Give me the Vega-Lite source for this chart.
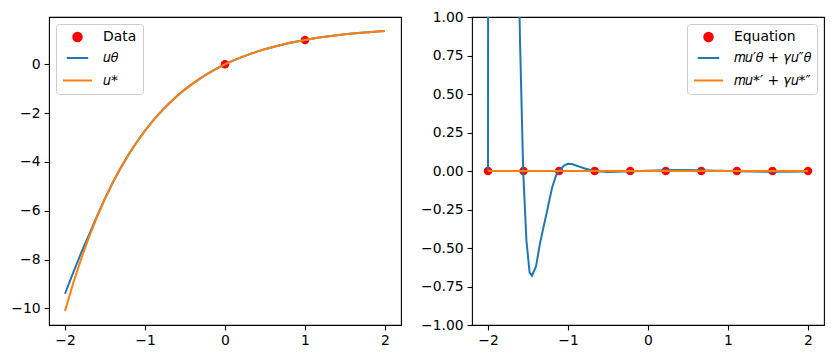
{
  "$schema": "https://vega.github.io/schema/vega-lite/v6.json",
  "background": "white",
  "padding": {"left": 10, "top": 9, "right": 5, "bottom": 5},
  "spacing": 17,
  "config": {
    "view": {"stroke": "black", "strokeWidth": 1.1},
    "axis": {"domain": false, "grid": false, "ticks": true, "tickColor": "black", "tickSize": 4.9, "tickWidth": 1.1, "labelFont": "DejaVu Sans", "labelFontSize": 13.9, "labelColor": "black", "labelPadding": 4},
    "legend": {"labelFont": "DejaVu Sans", "labelFontSize": 13.9, "labelColor": "black", "fillColor": "rgba(255,255,255,0.8)", "strokeColor": "#cccccc", "cornerRadius": 3, "padding": 6, "offset": 7, "symbolStrokeWidth": 2, "labelOffset": 10, "rowPadding": 0}
  },
  "datasets": {
    "leftPoints": [
      {"x": 0, "y": 0, "series": "Data"},
      {"x": 1, "y": 1, "series": "Data"}
    ],
    "leftLines": [
      {"x": -2.0, "y": -9.40, "series": "𝑢𝜃"},
      {"x": -1.9, "y": -8.55, "series": "𝑢𝜃"},
      {"x": -1.8, "y": -7.74, "series": "𝑢𝜃"},
      {"x": -1.7, "y": -6.99, "series": "𝑢𝜃"},
      {"x": -1.6, "y": -6.22, "series": "𝑢𝜃"},
      {"x": -1.5, "y": -5.49, "series": "𝑢𝜃"},
      {"x": -1.4, "y": -4.82, "series": "𝑢𝜃"},
      {"x": -1.3, "y": -4.215, "series": "𝑢𝜃"},
      {"x": -1.2, "y": -3.668, "series": "𝑢𝜃"},
      {"x": -1.1, "y": -3.170, "series": "𝑢𝜃"},
      {"x": -1.0, "y": -2.718, "series": "𝑢𝜃"},
      {"x": -0.9, "y": -2.309, "series": "𝑢𝜃"},
      {"x": -0.8, "y": -1.939, "series": "𝑢𝜃"},
      {"x": -0.7, "y": -1.604, "series": "𝑢𝜃"},
      {"x": -0.6, "y": -1.301, "series": "𝑢𝜃"},
      {"x": -0.5, "y": -1.026, "series": "𝑢𝜃"},
      {"x": -0.4, "y": -0.778, "series": "𝑢𝜃"},
      {"x": -0.3, "y": -0.553, "series": "𝑢𝜃"},
      {"x": -0.2, "y": -0.350, "series": "𝑢𝜃"},
      {"x": -0.1, "y": -0.166, "series": "𝑢𝜃"},
      {"x": 0.0, "y": 0.0, "series": "𝑢𝜃"},
      {"x": 0.1, "y": 0.151, "series": "𝑢𝜃"},
      {"x": 0.2, "y": 0.287, "series": "𝑢𝜃"},
      {"x": 0.3, "y": 0.410, "series": "𝑢𝜃"},
      {"x": 0.4, "y": 0.522, "series": "𝑢𝜃"},
      {"x": 0.5, "y": 0.622, "series": "𝑢𝜃"},
      {"x": 0.6, "y": 0.714, "series": "𝑢𝜃"},
      {"x": 0.7, "y": 0.796, "series": "𝑢𝜃"},
      {"x": 0.8, "y": 0.871, "series": "𝑢𝜃"},
      {"x": 0.9, "y": 0.939, "series": "𝑢𝜃"},
      {"x": 1.0, "y": 1.0, "series": "𝑢𝜃"},
      {"x": 1.1, "y": 1.055, "series": "𝑢𝜃"},
      {"x": 1.2, "y": 1.106, "series": "𝑢𝜃"},
      {"x": 1.3, "y": 1.151, "series": "𝑢𝜃"},
      {"x": 1.4, "y": 1.192, "series": "𝑢𝜃"},
      {"x": 1.5, "y": 1.229, "series": "𝑢𝜃"},
      {"x": 1.6, "y": 1.263, "series": "𝑢𝜃"},
      {"x": 1.7, "y": 1.293, "series": "𝑢𝜃"},
      {"x": 1.8, "y": 1.320, "series": "𝑢𝜃"},
      {"x": 1.9, "y": 1.345, "series": "𝑢𝜃"},
      {"x": 2.0, "y": 1.368, "series": "𝑢𝜃"},
      {"x": -2.0, "y": -10.107, "series": "𝑢*"},
      {"x": -1.9, "y": -8.995, "series": "𝑢*"},
      {"x": -1.8, "y": -7.988, "series": "𝑢*"},
      {"x": -1.7, "y": -7.078, "series": "𝑢*"},
      {"x": -1.6, "y": -6.254, "series": "𝑢*"},
      {"x": -1.5, "y": -5.508, "series": "𝑢*"},
      {"x": -1.4, "y": -4.833, "series": "𝑢*"},
      {"x": -1.3, "y": -4.223, "series": "𝑢*"},
      {"x": -1.2, "y": -3.670, "series": "𝑢*"},
      {"x": -1.1, "y": -3.171, "series": "𝑢*"},
      {"x": -1.0, "y": -2.718, "series": "𝑢*"},
      {"x": -0.9, "y": -2.309, "series": "𝑢*"},
      {"x": -0.8, "y": -1.939, "series": "𝑢*"},
      {"x": -0.7, "y": -1.604, "series": "𝑢*"},
      {"x": -0.6, "y": -1.301, "series": "𝑢*"},
      {"x": -0.5, "y": -1.026, "series": "𝑢*"},
      {"x": -0.4, "y": -0.778, "series": "𝑢*"},
      {"x": -0.3, "y": -0.553, "series": "𝑢*"},
      {"x": -0.2, "y": -0.350, "series": "𝑢*"},
      {"x": -0.1, "y": -0.166, "series": "𝑢*"},
      {"x": 0.0, "y": 0.0, "series": "𝑢*"},
      {"x": 0.1, "y": 0.151, "series": "𝑢*"},
      {"x": 0.2, "y": 0.287, "series": "𝑢*"},
      {"x": 0.3, "y": 0.410, "series": "𝑢*"},
      {"x": 0.4, "y": 0.522, "series": "𝑢*"},
      {"x": 0.5, "y": 0.622, "series": "𝑢*"},
      {"x": 0.6, "y": 0.714, "series": "𝑢*"},
      {"x": 0.7, "y": 0.796, "series": "𝑢*"},
      {"x": 0.8, "y": 0.871, "series": "𝑢*"},
      {"x": 0.9, "y": 0.939, "series": "𝑢*"},
      {"x": 1.0, "y": 1.0, "series": "𝑢*"},
      {"x": 1.1, "y": 1.055, "series": "𝑢*"},
      {"x": 1.2, "y": 1.106, "series": "𝑢*"},
      {"x": 1.3, "y": 1.151, "series": "𝑢*"},
      {"x": 1.4, "y": 1.192, "series": "𝑢*"},
      {"x": 1.5, "y": 1.229, "series": "𝑢*"},
      {"x": 1.6, "y": 1.263, "series": "𝑢*"},
      {"x": 1.7, "y": 1.293, "series": "𝑢*"},
      {"x": 1.8, "y": 1.320, "series": "𝑢*"},
      {"x": 1.9, "y": 1.345, "series": "𝑢*"},
      {"x": 2.0, "y": 1.368, "series": "𝑢*"}
    ],
    "rightPoints": [
      {"x": -2.0, "y": 0, "series": "Equation"},
      {"x": -1.5556, "y": 0, "series": "Equation"},
      {"x": -1.1111, "y": 0, "series": "Equation"},
      {"x": -0.6667, "y": 0, "series": "Equation"},
      {"x": -0.2222, "y": 0, "series": "Equation"},
      {"x": 0.2222, "y": 0, "series": "Equation"},
      {"x": 0.6667, "y": 0, "series": "Equation"},
      {"x": 1.1111, "y": 0, "series": "Equation"},
      {"x": 1.5556, "y": 0, "series": "Equation"},
      {"x": 2.0, "y": 0, "series": "Equation"}
    ],
    "rightLines": [
      {"x": -2.0, "y": 0, "series": "𝑚𝑢′𝜃 + 𝛾𝑢″𝜃"},
      {"x": -1.96, "y": 30, "series": "𝑚𝑢′𝜃 + 𝛾𝑢″𝜃"},
      {"x": -1.8, "y": 25, "series": "𝑚𝑢′𝜃 + 𝛾𝑢″𝜃"},
      {"x": -1.7, "y": 8, "series": "𝑚𝑢′𝜃 + 𝛾𝑢″𝜃"},
      {"x": -1.65, "y": 3, "series": "𝑚𝑢′𝜃 + 𝛾𝑢″𝜃"},
      {"x": -1.62, "y": 1.4, "series": "𝑚𝑢′𝜃 + 𝛾𝑢″𝜃"},
      {"x": -1.6, "y": 0.85, "series": "𝑚𝑢′𝜃 + 𝛾𝑢″𝜃"},
      {"x": -1.56, "y": 0.0, "series": "𝑚𝑢′𝜃 + 𝛾𝑢″𝜃"},
      {"x": -1.52, "y": -0.45, "series": "𝑚𝑢′𝜃 + 𝛾𝑢″𝜃"},
      {"x": -1.48, "y": -0.66, "series": "𝑚𝑢′𝜃 + 𝛾𝑢″𝜃"},
      {"x": -1.45, "y": -0.68, "series": "𝑚𝑢′𝜃 + 𝛾𝑢″𝜃"},
      {"x": -1.40, "y": -0.62, "series": "𝑚𝑢′𝜃 + 𝛾𝑢″𝜃"},
      {"x": -1.35, "y": -0.47, "series": "𝑚𝑢′𝜃 + 𝛾𝑢″𝜃"},
      {"x": -1.30, "y": -0.35, "series": "𝑚𝑢′𝜃 + 𝛾𝑢″𝜃"},
      {"x": -1.27, "y": -0.28, "series": "𝑚𝑢′𝜃 + 𝛾𝑢″𝜃"},
      {"x": -1.20, "y": -0.11, "series": "𝑚𝑢′𝜃 + 𝛾𝑢″𝜃"},
      {"x": -1.15, "y": -0.03, "series": "𝑚𝑢′𝜃 + 𝛾𝑢″𝜃"},
      {"x": -1.11, "y": 0.0, "series": "𝑚𝑢′𝜃 + 𝛾𝑢″𝜃"},
      {"x": -1.05, "y": 0.035, "series": "𝑚𝑢′𝜃 + 𝛾𝑢″𝜃"},
      {"x": -1.0, "y": 0.047, "series": "𝑚𝑢′𝜃 + 𝛾𝑢″𝜃"},
      {"x": -0.95, "y": 0.045, "series": "𝑚𝑢′𝜃 + 𝛾𝑢″𝜃"},
      {"x": -0.9, "y": 0.036, "series": "𝑚𝑢′𝜃 + 𝛾𝑢″𝜃"},
      {"x": -0.85, "y": 0.027, "series": "𝑚𝑢′𝜃 + 𝛾𝑢″𝜃"},
      {"x": -0.8, "y": 0.018, "series": "𝑚𝑢′𝜃 + 𝛾𝑢″𝜃"},
      {"x": -0.7, "y": 0.003, "series": "𝑚𝑢′𝜃 + 𝛾𝑢″𝜃"},
      {"x": -0.6, "y": -0.004, "series": "𝑚𝑢′𝜃 + 𝛾𝑢″𝜃"},
      {"x": -0.5, "y": -0.006, "series": "𝑚𝑢′𝜃 + 𝛾𝑢″𝜃"},
      {"x": -0.3, "y": -0.004, "series": "𝑚𝑢′𝜃 + 𝛾𝑢″𝜃"},
      {"x": -0.1, "y": 0.0, "series": "𝑚𝑢′𝜃 + 𝛾𝑢″𝜃"},
      {"x": 0.1, "y": 0.004, "series": "𝑚𝑢′𝜃 + 𝛾𝑢″𝜃"},
      {"x": 0.3, "y": 0.006, "series": "𝑚𝑢′𝜃 + 𝛾𝑢″𝜃"},
      {"x": 0.5, "y": 0.006, "series": "𝑚𝑢′𝜃 + 𝛾𝑢″𝜃"},
      {"x": 0.7, "y": 0.004, "series": "𝑚𝑢′𝜃 + 𝛾𝑢″𝜃"},
      {"x": 0.9, "y": 0.001, "series": "𝑚𝑢′𝜃 + 𝛾𝑢″𝜃"},
      {"x": 1.1, "y": -0.002, "series": "𝑚𝑢′𝜃 + 𝛾𝑢″𝜃"},
      {"x": 1.3, "y": -0.004, "series": "𝑚𝑢′𝜃 + 𝛾𝑢″𝜃"},
      {"x": 1.5, "y": -0.005, "series": "𝑚𝑢′𝜃 + 𝛾𝑢″𝜃"},
      {"x": 1.7, "y": -0.005, "series": "𝑚𝑢′𝜃 + 𝛾𝑢″𝜃"},
      {"x": 2.0, "y": -0.004, "series": "𝑚𝑢′𝜃 + 𝛾𝑢″𝜃"},
      {"x": -2.0, "y": 0, "series": "𝑚𝑢*′ + 𝛾𝑢*″"},
      {"x": -1.0, "y": 0, "series": "𝑚𝑢*′ + 𝛾𝑢*″"},
      {"x": 0.0, "y": 0, "series": "𝑚𝑢*′ + 𝛾𝑢*″"},
      {"x": 1.0, "y": 0, "series": "𝑚𝑢*′ + 𝛾𝑢*″"},
      {"x": 2.0, "y": 0, "series": "𝑚𝑢*′ + 𝛾𝑢*″"}
    ]
  },
  "hconcat": [
    {
      "width": 352,
      "height": 308,
      "encoding": {
        "x": {"field": "x", "type": "quantitative", "title": null, "scale": {"domain": [-2.2, 2.2], "nice": false, "zero": false}, "axis": {"values": [-2, -1, 0, 1, 2], "format": "d"}},
        "y": {"field": "y", "type": "quantitative", "title": null, "scale": {"domain": [-10.68, 1.94], "nice": false, "zero": false}, "axis": {"values": [-10, -8, -6, -4, -2, 0], "format": "d"}}
      },
      "layer": [
        {
          "data": {"name": "leftPoints"},
          "mark": {"type": "point", "filled": true, "opacity": 1},
          "encoding": {
            "color": {"field": "series", "type": "nominal", "scale": {"domain": ["Data", "𝑢𝜃", "𝑢*"], "range": ["red", "#1f77b4", "#ff7f0e"]}, "legend": {"title": null, "orient": "top-left"}},
            "shape": {"field": "series", "type": "nominal", "scale": {"domain": ["Data", "𝑢𝜃", "𝑢*"], "range": ["circle", "stroke", "stroke"]}, "legend": {"title": null, "orient": "top-left"}},
            "size": {"field": "series", "type": "nominal", "scale": {"domain": ["Data", "𝑢𝜃", "𝑢*"], "range": [72, 841, 841]}, "legend": {"title": null, "orient": "top-left"}}
          }
        },
        {
          "data": {"name": "leftLines"},
          "transform": [{"filter": "datum.series === '𝑢𝜃'"}],
          "mark": {"type": "line", "strokeWidth": 2},
          "encoding": {"color": {"field": "series", "type": "nominal"}}
        },
        {
          "data": {"name": "leftLines"},
          "transform": [{"filter": "datum.series === '𝑢*'"}],
          "mark": {"type": "line", "strokeWidth": 2},
          "encoding": {"color": {"field": "series", "type": "nominal"}}
        }
      ]
    },
    {
      "width": 352,
      "height": 308,
      "encoding": {
        "x": {"field": "x", "type": "quantitative", "title": null, "scale": {"domain": [-2.2, 2.2], "nice": false, "zero": false}, "axis": {"values": [-2, -1, 0, 1, 2], "format": "d"}},
        "y": {"field": "y", "type": "quantitative", "title": null, "scale": {"domain": [-1, 1], "nice": false, "zero": false}, "axis": {"values": [-1, -0.75, -0.5, -0.25, 0, 0.25, 0.5, 0.75, 1], "format": ".2f"}}
      },
      "layer": [
        {
          "data": {"name": "rightPoints"},
          "mark": {"type": "point", "filled": true, "opacity": 1},
          "encoding": {
            "color": {"field": "series", "type": "nominal", "scale": {"domain": ["Equation", "𝑚𝑢′𝜃 + 𝛾𝑢″𝜃", "𝑚𝑢*′ + 𝛾𝑢*″"], "range": ["red", "#1f77b4", "#ff7f0e"]}, "legend": {"title": null, "orient": "top-right"}},
            "shape": {"field": "series", "type": "nominal", "scale": {"domain": ["Equation", "𝑚𝑢′𝜃 + 𝛾𝑢″𝜃", "𝑚𝑢*′ + 𝛾𝑢*″"], "range": ["circle", "stroke", "stroke"]}, "legend": {"title": null, "orient": "top-right"}},
            "size": {"field": "series", "type": "nominal", "scale": {"domain": ["Equation", "𝑚𝑢′𝜃 + 𝛾𝑢″𝜃", "𝑚𝑢*′ + 𝛾𝑢*″"], "range": [72, 841, 841]}, "legend": {"title": null, "orient": "top-right"}}
          }
        },
        {
          "data": {"name": "rightLines"},
          "transform": [{"filter": "datum.series === '𝑚𝑢′𝜃 + 𝛾𝑢″𝜃'"}],
          "mark": {"type": "line", "strokeWidth": 2, "clip": true},
          "encoding": {"color": {"field": "series", "type": "nominal"}}
        },
        {
          "data": {"name": "rightLines"},
          "transform": [{"filter": "datum.series === '𝑚𝑢*′ + 𝛾𝑢*″'"}],
          "mark": {"type": "line", "strokeWidth": 2, "clip": true},
          "encoding": {"color": {"field": "series", "type": "nominal"}}
        }
      ]
    }
  ],
  "resolve": {"scale": {"color": "independent", "shape": "independent", "size": "independent", "x": "independent", "y": "independent"}}
}
